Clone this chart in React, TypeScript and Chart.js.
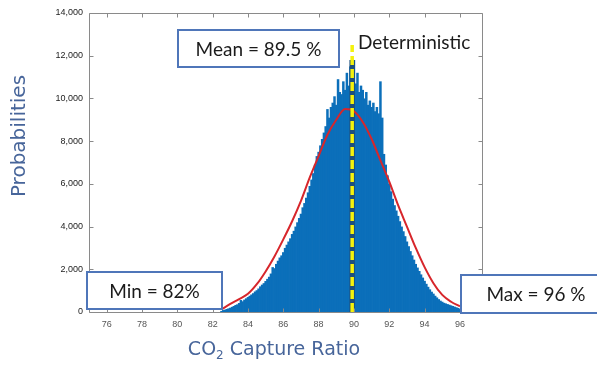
import React, { useEffect, useRef } from 'react';
import { Chart, registerables } from 'chart.js';

Chart.register(...registerables);

// ---------- data ----------
const BIN_START = 82.5;
const BIN_WIDTH = 0.1;
const histCounts = [
  50, 90, 110, 140, 170, 200, 240, 280, 330, 360,
  420, 560, 500, 580, 640, 700, 760, 820, 880, 960,
  1020, 1100, 1200, 1280, 1350, 1450, 1550, 1650, 1800, 2100,
  2050, 2250, 2400, 2550, 2650, 2800, 3000, 3150, 3300, 3450,
  3650, 3800, 4000, 4200, 4400, 4600, 4900, 5100, 5350, 5600,
  5900, 6200, 6500, 6900, 7300, 7500, 7800, 8100, 8400, 8700,
  9500, 9100, 9600, 9800, 10100, 9700, 10900, 10300, 10200, 10800,
  10400, 11200, 10600, 11500, 10900, 11800, 10700, 11200, 10300, 10600,
  10400, 10000, 10300, 9700, 9900, 9600, 9800, 9400, 9600, 9300,
  10800, 9100, 7400, 6900, 6400, 6000, 5650, 5300, 5000, 4750,
  4500, 4250, 4000, 3780, 3550, 3300, 3080, 2850, 2650, 2450,
  2250, 2080, 1920, 1760, 1610, 1460, 1320, 1180, 1060, 950,
  860, 760, 680, 600, 530, 480, 430, 400, 370, 340,
  310, 280, 250, 220, 190, 150,
];

const fitX = [82.5, 83, 83.5, 84, 84.5, 85, 85.5, 86, 86.5, 87, 87.5, 88, 88.5, 89, 89.5,
  90, 90.5, 91, 91.5, 92, 92.5, 93, 93.5, 94, 94.5, 95, 95.5, 96];
const fitY = [120, 380, 600, 850, 1300, 1900, 2600, 3400, 4250, 5200, 6300, 7300, 8300, 9000, 9500,
  9400, 8900, 8100, 7100, 6100, 5000, 4000, 3000, 2100, 1350, 800, 480, 260];

const deterministicX = 89.9;
const deterministicTop = 12500;
const deterministicUnder = 11800;

const xTicks = [76, 78, 80, 82, 84, 86, 88, 90, 92, 94, 96];
const yTicks = [0, 2000, 4000, 6000, 8000, 10000, 12000, 14000];
const X_MIN = 75;
const X_MAX = 97.25;
const Y_MIN = 0;
const Y_MAX = 14000;

const yTitle = 'Probabilities';
const xTitleMain = 'CO';
const xTitleSub = '2';
const xTitleRest = ' Capture Ratio';
const meanLabel = 'Mean = 89.5 %';
const minLabel = 'Min = 82%';
const maxLabel = 'Max = 96 %';
const detLabel = 'Deterministic';

// ---------- styles ----------
const HIST_COLOR = '#0b6fba';
const FIT_COLOR = '#d7262b';
const TITLE_COLOR = '#47659a';
const BOX_COLOR = '#4f76b9';
const AXIS_COLOR = '#8a8a8a';
const NOTE_FONT = '"Lato", "Liberation Sans", sans-serif';

const framePlugin = {
  id: 'frameAndNotes',
  afterDatasetsDraw(chart: any) {
    const { ctx, chartArea: a, scales } = chart;
    const xs = scales.x;
    const ys = scales.y;
    const L = Math.round(a.left) + 0.5;
    const R = Math.round(a.right) + 0.5;
    const T = Math.round(a.top) + 0.5;
    const B = Math.round(a.bottom) + 0.5;
    ctx.save();
    ctx.strokeStyle = AXIS_COLOR;
    ctx.lineWidth = 1;
    ctx.beginPath();
    ctx.rect(L, T, R - L, B - T);
    ctx.stroke();
    const tl = 4;
    ctx.beginPath();
    for (const v of xTicks) {
      const px = Math.round(xs.getPixelForValue(v)) + 0.5;
      ctx.moveTo(px, B); ctx.lineTo(px, B - tl);
      ctx.moveTo(px, T); ctx.lineTo(px, T + tl);
    }
    for (const v of yTicks) {
      const py = Math.round(ys.getPixelForValue(v)) + 0.5;
      ctx.moveTo(L, py); ctx.lineTo(L + tl, py);
      ctx.moveTo(R, py); ctx.lineTo(R - tl, py);
    }
    ctx.stroke();
    ctx.restore();
  },
  afterDraw(chart: any) {
    const { ctx } = chart;
    ctx.save();
    // axis titles
    ctx.fillStyle = TITLE_COLOR;
    ctx.textBaseline = 'middle';
    ctx.textAlign = 'center';
    ctx.font = '20px "DejaVu Sans", sans-serif';
    ctx.save();
    ctx.translate(20, 136);
    ctx.rotate(-Math.PI / 2);
    ctx.fillText(yTitle, 0, 0);
    ctx.restore();

    const bigF = '19px "DejaVu Sans", sans-serif';
    const smallF = '12px "DejaVu Sans", sans-serif';
    ctx.font = bigF;
    const w1 = ctx.measureText(xTitleMain).width;
    const w3 = ctx.measureText(xTitleRest).width;
    ctx.font = smallF;
    const w2 = ctx.measureText(xTitleSub).width;
    const total = w1 + w2 + w3;
    const x0 = 274 - total / 2;
    const yT = 350;
    ctx.textAlign = 'left';
    ctx.font = bigF;
    ctx.fillText(xTitleMain, x0, yT);
    ctx.font = smallF;
    ctx.fillText(xTitleSub, x0 + w1, yT + 6);
    ctx.font = bigF;
    ctx.fillText(xTitleRest, x0 + w1 + w2, yT);

    // annotation boxes
    const box = (x: number, y: number, w: number, h: number, text: string) => {
      ctx.fillStyle = '#ffffff';
      ctx.fillRect(x, y, w, h);
      ctx.strokeStyle = BOX_COLOR;
      ctx.lineWidth = 2;
      ctx.strokeRect(x, y, w, h);
      ctx.fillStyle = '#1b1b1b';
      ctx.font = '19px ' + NOTE_FONT;
      ctx.textAlign = 'center';
      ctx.textBaseline = 'middle';
      ctx.fillText(text, x + w / 2, y + h / 2 + 1);
    };
    box(178, 30, 161, 37, meanLabel);
    box(87, 272, 135, 37, minLabel);
    box(461, 275, 150, 38, maxLabel);

    ctx.fillStyle = '#1b1b1b';
    ctx.font = '19px ' + NOTE_FONT;
    ctx.textAlign = 'left';
    ctx.textBaseline = 'middle';
    ctx.fillText(detLabel, 358, 43);
    ctx.restore();
  },
};

export default function App() {
  const ref = useRef<HTMLCanvasElement | null>(null);
  useEffect(() => {
    if (!ref.current) return;
    const histData = histCounts.map((c, i) => ({ x: +(BIN_START + i * BIN_WIDTH).toFixed(2), y: c }));
    const fitData = fitX.map((x, i) => ({ x, y: fitY[i] }));
    const chart = new Chart(ref.current, {
      type: 'line',
      data: {
        datasets: [
          {
            label: 'Deterministic',
            data: [{ x: deterministicX, y: 0 }, { x: deterministicX, y: deterministicTop }],
            borderColor: '#f4f20c',
            borderWidth: 3.5,
            borderDash: [9, 4],
            pointRadius: 0,
            fill: false,
            order: 1,
          },
          {
            label: 'Normal fit',
            data: fitData,
            borderColor: FIT_COLOR,
            borderWidth: 2,
            pointRadius: 0,
            cubicInterpolationMode: 'monotone',
            fill: false,
            order: 2,
          },
          {
            label: 'Deterministic shade',
            data: [{ x: deterministicX, y: 0 }, { x: deterministicX, y: deterministicUnder }],
            borderColor: '#1c4f7e',
            borderWidth: 5.5,
            pointRadius: 0,
            fill: false,
            order: 3,
          },
          {
            type: 'bar',
            label: 'Histogram',
            data: histData,
            backgroundColor: HIST_COLOR,
            borderWidth: 0,
            barThickness: 2.5,
            grouped: false,
            inflateAmount: 0,
            order: 4,
          },
        ],
      },
      options: {
        animation: false,
        responsive: true,
        maintainAspectRatio: false,
        layout: { padding: { top: 13, right: 115, bottom: 0, left: 0 } },
        plugins: {
          legend: { display: false },
          tooltip: { enabled: false },
        },
        scales: {
          x: {
            type: 'linear',
            min: X_MIN,
            max: X_MAX,
            offset: false,
            grid: { display: false, drawTicks: false },
            border: { display: false },
            afterBuildTicks: (s: any) => { s.ticks = xTicks.map((v) => ({ value: v })); },
            afterFit: (s: any) => { s.height = 53; },
            ticks: {
              padding: 7,
              color: '#555',
              font: { family: '"Liberation Sans", Arial, sans-serif', size: 9 },
            },
          },
          y: {
            type: 'linear',
            min: Y_MIN,
            max: Y_MAX,
            grid: { display: false, drawTicks: false },
            border: { display: false },
            afterBuildTicks: (s: any) => { s.ticks = yTicks.map((v) => ({ value: v })); },
            afterFit: (s: any) => { s.width = 89; },
            ticks: {
              padding: 6,
              color: '#222',
              font: { family: '"Liberation Sans", Arial, sans-serif', size: 9 },
            },
          },
        },
      },
      plugins: [framePlugin],
    } as any);
    return () => chart.destroy();
  }, []);
  return (
    <div style={{ position: 'fixed', left: 0, top: 0, width: 597, height: 365, background: '#fff' }}>
      <canvas ref={ref} />
    </div>
  );
}
